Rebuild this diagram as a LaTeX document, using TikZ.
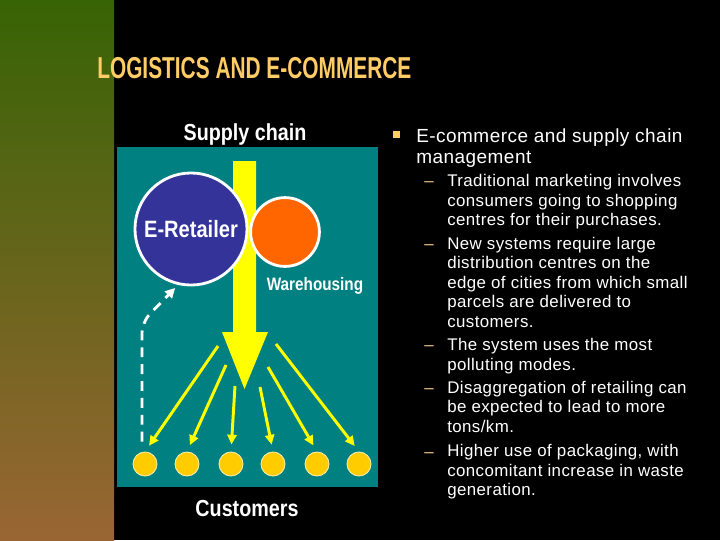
\documentclass[tikz,border=0pt]{standalone}
\usepackage{fontspec}
\setmainfont{Liberation Sans}
\newfontfamily\titlefont{Liberation Sans}[FakeStretch=0.69]
\newfontfamily\labelfont{Liberation Sans}[FakeStretch=0.85]
\newfontfamily\bodyfont{Liberation Sans}[LetterSpace=2.5]
\usetikzlibrary{arrows.meta}

\definecolor{stripTop}{RGB}{55,100,5}
\definecolor{stripBot}{RGB}{153,102,51}
\definecolor{tealbox}{RGB}{0,128,128}
\definecolor{eblue}{RGB}{51,51,153}
\definecolor{whorange}{RGB}{255,102,0}
\definecolor{custGold}{RGB}{255,204,0}
\definecolor{titlecol}{RGB}{255,204,102}
\definecolor{dashcol}{RGB}{240,204,150}
\definecolor{fanyellow}{RGB}{255,255,0}

\begin{document}
\begin{tikzpicture}[x=0.025cm, y=-0.025cm,
    txt/.style={inner sep=0pt, text=white},
    bigtag/.style={txt, font=\labelfont\bfseries\fontsize{16.5}{18}\selectfont},
    fan/.style={fanyellow, line width=2.1pt, shorten >=5pt,
                -{Triangle[length=7pt,width=6.5pt]}},
    back/.style={white, line width=2pt, dash pattern=on 7pt off 5pt,
                 rounded corners=8pt, shorten >=3pt,
                 -{Triangle[length=7pt,width=7pt]}},
    cust/.style={circle, fill=custGold, draw=white!70!custGold,
                 line width=0.6pt, minimum size=0.6cm, inner sep=0pt},
    subtext/.style={txt, anchor=base west, align=left,
                    font=\bodyfont\fontsize{12}{13.8}\selectfont},
    subdash/.style={txt, anchor=base west, text=dashcol,
                    font=\bodyfont\fontsize{12}{13.8}\selectfont}]
  % --- page: black, left strip, teal panel ---
  \useasboundingbox (0,0) rectangle (720,540);
  \fill[black] (0,0) rectangle (720,540);
  \shade[top color=stripTop, bottom color=stripBot] (0,0) rectangle (114,540);
  \fill[tealbox] (117,147) rectangle (378,487);

  % --- title and captions ---
  \node[txt, anchor=base west, text=titlecol,
        font=\titlefont\bfseries\fontsize{21.5}{24}\selectfont]
        (title) at (97,78.3) {LOGISTICS AND E-COMMERCE};
  \node[bigtag, anchor=base] (supply) at (245,140) {Supply chain};
  \node[bigtag, anchor=base] (custlab) at (247,516.7) {Customers};

  % --- big supply arrow (behind the circles) ---
  \fill[fanyellow] (233,161) -- (256,161) -- (256,332) -- (268,332)
        -- (244.5,389) -- (222,332) -- (233,332) -- cycle;

  % --- e-retailer and warehouse ---
  \node[circle, fill=eblue, draw=white, line width=2pt, minimum size=2.8cm,
        inner sep=0pt, bigtag, font=\labelfont\bfseries\fontsize{16.8}{18}\selectfont]
        (eret) at (191,229) {E-Retailer};
  \node[circle, fill=whorange, draw=white, line width=2pt, minimum size=1.72cm]
        (ware) at (285,232) {};
  \node[txt, anchor=base, font=\labelfont\bfseries\fontsize{12.8}{14}\selectfont]
        (warelab) at (315,290) {Warehousing};

  % --- customers and delivery arrows ---
  \foreach \i/\x/\sx/\sy in {1/145/218/346, 2/187/226/365, 3/231/235/386,
                             4/273/260/387, 5/317/268/367, 6/359/276/344} {
    \node[cust] (c\i) at (\x,464) {};
    \coordinate (s\i) at (\sx,\sy);
    \draw[fan] (s\i) -- (c\i.north);
  }

  % --- return flow (dashed) ---
  \coordinate (bend) at (142,322);
  \draw[back] ([shift={(-3,-10)}]c1.north) -- (bend) -- (eret.257);

  % --- bullet text (base = last line) ---
  \node[minimum size=0.175cm, inner sep=0pt, fill=titlecol] (sq) at (396,134.5) {};
  \node[txt, anchor=base west, align=left,
        font=\bodyfont\fontsize{13.5}{14.9}\selectfont]
        (head) at (416,163) {E-commerce and supply chain\\management};
  \foreach \n/\y/\z/\txt in {
      1/186.5/225.5/{Traditional marketing involves\\consumers going to shopping\\centres for their purchases.},
      2/249.5/327/{New systems require large\\distribution centres on the\\edge of cities from which small\\parcels are delivered to\\customers.},
      3/350.5/370/{The system uses the most\\polluting modes.},
      4/393/432/{Disaggregation of retailing can\\be expected to lead to more\\tons/km.},
      5/457/495.5/{Higher use of packaging, with\\concomitant increase in waste\\generation.}} {
    \node[subdash] (d\n) at (424,\y) {\textendash};
    \node[subtext] (t\n) at (447,\z) {\txt};
  }
\end{tikzpicture}
\end{document}
